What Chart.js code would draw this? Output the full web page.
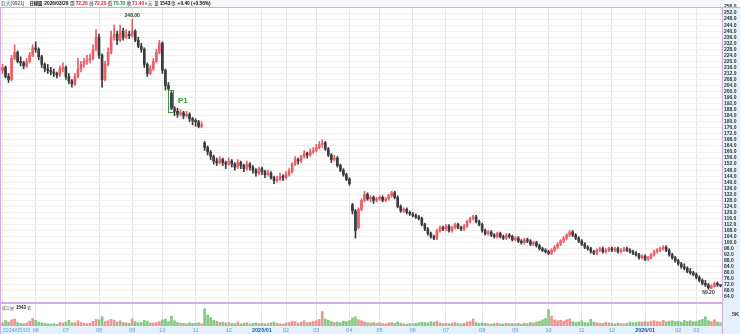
<!DOCTYPE html>
<html><head><meta charset="utf-8">
<script src="https://cdn.jsdelivr.net/npm/chart.js@4/dist/chart.umd.min.js"></script>
<style>
html,body{margin:0;padding:0;background:#fff;width:740px;height:334px;overflow:hidden}
#p{position:absolute;left:0;top:0;width:740px;height:304px}
#v{position:absolute;left:0;top:304px;width:740px;height:30px}
</style></head><body>
<div id="p"><canvas id="pc"></canvas></div>
<div id="v"><canvas id="vc"></canvas></div>
<script>
// ---- data (~2 trading days per candle) ----
const monthStarts = [0,11,21,32,43,53,64,75,86,94,104,115,125,136,147,159,170,181,192,202,213,224,230];
const monthLabels = ['2024/05/03','06','07','08','09','10','11','12','2025/01','02','03','04','05','06','07','08','09','10','11','12','2026/01','02','03'];
const priceTicks = [256,252,248,244,240,236,232,228,224,220,216,212,208,204,200,196,192,188,184,180,176,172,168,164,160,156,152,148,144,140,136,132,128,124,120,116,112,108,104,100,96,92,88,84,80,76,72,68,64];
const volTicks = [5];

const opens = [
214,216,210,208,222,226,220,219,217,220,224,
229,228,223,218,215,214,213,212,211,215,
216,210,207,205,210,215,218,220,221,222,228,
236,224,208,218,226,236,238,234,240,236,238,
237,240,234,230,228,218,212,215,220,226,
232,214,204,199,189,187,185,186,184,185,182,
181,180,177,166,163,160,157,154,153,155,153,
152,154,152,150,153,151,149,152,150,148,146,
149,147,145,146,143,141,142,144,
143,145,147,152,155,154,157,159,158,160,
161,163,165,166,162,158,155,156,151,148,145,
142,125,121,110,122,128,132,129,130,128,
129,130,128,129,131,133,130,124,121,122,120,
119,118,117,116,112,109,106,104,103,108,110,
109,111,108,110,112,110,109,111,114,116,117,114,
112,108,106,107,105,104,106,104,103,105,104,
102,103,101,100,102,101,99,100,98,96,95,
94,93,95,97,99,101,103,105,107,105,103,
101,99,97,96,94,93,95,96,94,95,
96,95,96,94,95,96,95,94,93,92,90,
91,89,90,92,94,95,96,97,95,92,90,
88,86,84,83,81,80,
79,77,75,73,72,70,71,73,72.2];
const highs = [
218,217,212,224,231,227,223,220,222,226,231,
233,229,224,219,218,216,215,213,217,219,
217,212,208,212,222,220,222,224,225,231,241,
238,225,220,229,240,244,240,244,242,241,240,
248,241,236,232,229,219,217,222,228,234,
233,215,206,200,190,189,188,187,187,186,183,
182,181,180,167,164,161,158,156,157,156,154,
156,155,153,155,154,152,154,153,151,149,150,
150,148,148,147,144,144,146,145,
147,149,153,157,156,158,161,160,162,163,
165,167,168,167,163,159,158,157,152,149,146,
143,126,122,123,129,134,133,131,131,130,
131,131,130,132,134,134,131,125,123,123,121,
120,119,118,117,113,110,107,105,109,111,111,
112,112,111,113,113,111,112,115,117,118,118,115,
113,109,108,108,106,107,107,105,106,106,105,
104,104,102,103,103,102,101,101,99,97,96,
95,96,98,100,102,104,106,108,108,106,104,
102,100,98,97,95,96,97,97,96,97,
97,97,97,96,97,97,96,95,94,93,92,
92,91,93,95,96,97,98,98,96,93,91,
89,87,86,84,83,81,
80,78,76,75,73,72,74,74,72.2];
const lows = [
212,209,206,207,221,219,217,215,216,219,223,
226,221,216,213,212,211,210,209,210,213,
208,205,203,204,209,213,216,218,219,221,227,
222,203,207,217,225,234,231,233,234,235,235,
236,233,229,226,216,210,211,214,219,225,
212,201,201,188,184,183,184,182,183,180,178,
177,176,176,161,158,155,152,151,152,151,149,
151,150,148,149,149,147,148,148,146,144,145,
145,143,144,142,139,140,141,141,
142,144,146,151,152,153,156,156,157,159,
160,162,163,161,157,153,154,150,147,144,141,
138,119,103,109,121,127,128,127,126,127,
128,127,127,128,130,129,123,120,120,119,118,
117,116,115,111,108,105,103,102,102,107,108,
108,107,107,109,109,108,108,110,113,115,113,111,
107,105,105,104,103,103,103,102,102,103,101,
101,100,99,99,100,98,98,97,95,94,93,
92,92,94,96,98,100,102,104,104,102,100,
98,96,95,93,92,92,94,93,93,94,
94,94,93,93,94,94,93,92,91,89,89,
88,88,89,91,93,94,95,94,91,89,87,
85,83,82,80,79,78,
76,74,72,71,69.2,69.5,70.5,71,70.7];
const closes = [
216,210,208,222,226,220,219,217,220,224,229,
228,223,218,215,214,213,212,211,215,216,
210,207,205,210,215,218,220,221,222,228,236,
224,208,218,226,236,238,234,240,236,238,237,
240,234,230,228,218,212,215,220,226,232,
214,204,202,189,187,185,186,184,185,182,181,
180,177,178,163,160,157,154,153,155,153,152,
154,152,150,153,151,149,152,150,148,146,149,
147,145,146,143,141,142,144,143,
145,147,152,155,154,157,159,158,160,161,
163,165,166,162,158,155,156,151,148,145,142,
139,121,108,122,128,132,129,130,128,129,
130,128,129,131,133,130,124,121,122,120,119,
118,117,116,112,109,106,104,103,108,110,109,
111,108,110,112,110,109,111,114,116,117,114,112,
108,106,107,105,104,106,104,103,105,104,102,
103,101,100,102,101,99,100,98,96,95,94,
93,95,97,99,101,103,105,107,105,103,101,
99,97,96,94,93,95,96,94,95,96,
95,96,94,95,96,95,94,93,92,90,91,
89,90,92,94,95,96,97,95,92,90,88,
86,84,83,81,80,79,
77,75,73,72,70,71,73,72,71.4];
// volume in thousands of lots (張)
const volumes = [
1.5,2.5,1.8,2.8,3.2,1.6,1.2,1.0,1.4,2.2,3.4,
2.6,1.8,1.5,1.2,1.0,0.9,1.1,0.8,1.6,1.3,
1.8,2.6,1.5,1.4,2.4,1.6,1.2,1.0,1.3,2.2,3.0,
2.8,4.2,2.0,2.4,3.0,2.6,1.8,2.4,1.6,1.4,1.2,
3.2,2.0,1.5,1.6,2.6,2.2,1.4,1.3,1.6,2.0,
2.8,3.2,2.0,4.5,2.4,1.6,1.3,1.2,1.0,1.5,1.2,
1.3,1.5,1.0,7.8,5.0,3.8,2.6,2.2,1.6,1.8,1.4,
1.6,1.2,1.1,1.8,1.0,1.3,1.5,0.9,1.2,1.4,1.1,
1.2,1.0,1.1,1.5,1.8,1.2,1.0,0.9,
1.4,1.6,2.2,2.0,1.3,1.8,2.4,1.5,1.7,2.0,
2.4,3.0,6.5,3.2,2.6,2.0,1.6,1.8,1.5,2.2,2.0,
2.4,3.6,4.2,2.8,2.4,1.8,1.5,1.4,1.6,1.2,
1.5,1.1,1.0,1.4,1.6,1.2,1.8,1.3,1.0,0.9,1.1,
1.0,1.2,1.5,1.8,1.6,1.4,1.9,1.6,2.2,1.4,1.1,
1.2,1.0,1.3,1.6,1.1,0.9,1.2,1.8,2.0,3.2,1.6,1.2,
1.4,1.2,1.0,0.9,1.1,1.3,1.0,0.9,1.2,1.0,1.1,
1.0,1.2,0.9,1.3,1.1,1.6,1.4,1.8,2.2,2.8,3.4,
7.5,4.5,2.8,2.4,2.6,2.2,2.8,3.2,2.0,1.6,1.8,
2.4,1.6,1.4,3.0,1.8,1.5,1.3,1.2,1.6,1.4,
1.2,1.0,1.3,1.1,1.0,1.2,1.8,1.5,1.6,1.9,1.7,
2.0,1.8,2.2,2.4,2.0,1.8,2.6,1.9,2.2,2.4,2.0,
2.2,1.8,2.6,2.0,2.4,1.9,
2.2,2.6,3.0,4.2,2.4,2.0,2.8,1.8,1.5];
const p1Index = 56, p1Label = 'P1';
// header: [text, colour, bold, gap after]
const headerParts = [
  ['巨大(9921)', '#444', false, 5], ['日線圖', '#111', true, 2], ['2026/03/26', '#111', true, 2],
  ['開', '#222', false, 1], ['72.20', '#e0282e', true, 1.5], ['高', '#222', false, 1], ['72.20', '#e0282e', true, 1.5],
  ['低', '#222', false, 1], ['70.70', '#1f9a2c', true, 1.5], ['收', '#222', false, 1], ['71.40', '#e0282e', true, 1],
  ['s 元', '#222', false, 2], ['量', '#222', false, 1], ['1543', '#111', true, 1], ['張', '#222', false, 2],
  ['+0.40 (+0.56%)', '#111', true, 0]
];
const volLabel = [['成交量', '#555', false, 2], ['1543', '#111', true, 1], ['張', '#555', false, 0]];

// ---- derived tables ----
const categories = closes.map(() => '');
monthStarts.forEach((s, k) => { categories[s] = monthLabels[k]; });
const monthIdx = new Set(monthStarts);
const isUp = closes.map((c, i) => c >= opens[i]);
const UP = '#ec5f66', DOWN = '#3b3b3b', VUP = '#f29393', VDOWN = '#85c985';
const VIOLET = '#d6a9e2', AXISBG = '#e4f1fb';
const FONT = "'Liberation Sans','Noto Sans CJK TC',sans-serif";
const CJK = "'Noto Sans CJK TC','Liberation Sans',sans-serif";
const isYear = l => /\//.test(l) && !/\/\d\d\/\d\d/.test(l);

const xGrid = { color: c => monthIdx.has(c.index) ? '#e6e6e6' : 'rgba(0,0,0,0)', offset: false, drawTicks: false, lineWidth: 1 };

function drawParts(ctx, parts, x0, y, size, cjkSize) {
  ctx.textBaseline = 'middle'; ctx.textAlign = 'left';
  let x = x0;
  parts.forEach(([t, col, b, gap]) => {
    const cjk = /[^\x00-\x7f]/.test(t) && !/\d/.test(t);
    ctx.font = (b ? 'bold ' : '') + (cjk ? cjkSize : size) + 'px ' + (cjk ? CJK : FONT);
    ctx.fillStyle = col; ctx.fillText(t, x, y);
    x += ctx.measureText(t).width + gap;
  });
}

const priceDeco = {
  id: 'priceDeco',
  beforeDraw(chart) {
    const ctx = chart.ctx, a = chart.chartArea, W = chart.width, H = chart.height;
    ctx.save();
    ctx.fillStyle = '#fff'; ctx.fillRect(0, 0, W, H);
    ctx.fillStyle = '#f5f7fb'; ctx.fillRect(0, 0, W, 7);
    ctx.fillStyle = AXISBG; ctx.fillRect(a.right, 7, W - a.right, H - 7);
    ctx.restore();
  },
  afterDatasetsDraw(chart) {
    const ctx = chart.ctx, xs = chart.scales.x, ys = chart.scales.y;
    ctx.save();
    const x = Math.round(xs.getPixelForValue(p1Index));
    const t = Math.round(ys.getPixelForValue(highs[p1Index])) - 2, b = Math.round(ys.getPixelForValue(lows[p1Index])) + 2;
    ctx.strokeStyle = '#3d9a4b'; ctx.lineWidth = 1;
    ctx.strokeRect(x - 2.5, t + 0.5, 5, b - t);
    ctx.fillStyle = '#2e9a3e'; ctx.font = 'bold 8px ' + FONT; ctx.textBaseline = 'middle'; ctx.textAlign = 'left';
    ctx.fillText(p1Label, x + 7, (t + b) / 2);
    let hi = 0, lo = 0;
    highs.forEach((v, i) => { if (v > highs[hi]) hi = i; });
    lows.forEach((v, i) => { if (v < lows[lo]) lo = i; });
    ctx.fillStyle = '#333'; ctx.font = 'bold 5px ' + FONT; ctx.textAlign = 'center';
    ctx.textBaseline = 'bottom';
    ctx.fillText(highs[hi].toFixed(2), xs.getPixelForValue(hi), ys.getPixelForValue(highs[hi]) - 1);
    ctx.textBaseline = 'top';
    ctx.fillText(lows[lo].toFixed(2), xs.getPixelForValue(lo), ys.getPixelForValue(lows[lo]) + 1);
    ctx.restore();
  },
  afterDraw(chart) {
    const ctx = chart.ctx, a = chart.chartArea, W = chart.width, H = chart.height;
    ctx.save();
    ctx.fillStyle = VIOLET;
    ctx.fillRect(0, 7, W, 1);
    ctx.fillRect(0, 7, 1, H - 7);
    ctx.fillRect(Math.round(a.right), 7, 1, H - 7);
    ctx.fillRect(0, H - 2, Math.round(a.right) + 1, 2);
    drawParts(ctx, headerParts, 1, 3.5, 4.8, 4.3);
    ctx.restore();
  }
};

const volDeco = {
  id: 'volDeco',
  beforeDraw(chart) {
    const ctx = chart.ctx, a = chart.chartArea, W = chart.width, H = chart.height;
    ctx.save();
    ctx.fillStyle = '#fff'; ctx.fillRect(0, 0, W, H);
    ctx.fillStyle = AXISBG; ctx.fillRect(a.right, 0, W - a.right, H);
    ctx.fillRect(0, a.bottom, W, H - a.bottom);
    ctx.restore();
  },
  afterDraw(chart) {
    const ctx = chart.ctx, a = chart.chartArea, H = chart.height;
    ctx.save();
    ctx.fillStyle = VIOLET;
    ctx.fillRect(0, 0, 1, H);
    ctx.fillRect(Math.round(a.right), 0, 1, H);
    drawParts(ctx, volLabel, 2, 4, 4.5, 4);
    ctx.restore();
  }
};

const common = { responsive: true, maintainAspectRatio: false, animation: false, devicePixelRatio: 1,
  plugins: { legend: { display: false }, tooltip: { enabled: false } } };

new Chart(document.getElementById('pc'), {
  type: 'bar',
  data: { labels: categories, datasets: [
    { data: lows.map((l, i) => [l, highs[i]]), backgroundColor: isUp.map(u => u ? UP : DOWN), barThickness: 1, grouped: false, order: 2 },
    { data: opens.map((o, i) => [o, closes[i]]), backgroundColor: isUp.map(u => u ? UP : DOWN), barThickness: 2, grouped: false, minBarLength: 1, order: 1 }
  ]},
  options: Object.assign({}, common, {
    layout: { padding: { left: 1, right: 0, top: 7, bottom: 2 } },
    scales: {
      x: { type: 'category', offset: true, grid: xGrid, border: { display: false },
           ticks: { display: false, autoSkip: false },
           afterFit: s => { s.height = 0; s.paddingLeft = 0; s.paddingRight = 0; } },
      y: { position: 'right', min: 60.7, max: 256,
           afterBuildTicks: s => { s.ticks = priceTicks.map(v => ({ value: v })); },
           afterFit: s => { s.width = 18; s.paddingTop = 0; s.paddingBottom = 0; },
           ticks: { autoSkip: false, font: { size: 5, family: FONT, weight: 'bold' }, color: '#333', padding: 2, callback: v => Number(v).toFixed(1) },
           grid: { color: '#efefef', drawTicks: false }, border: { display: false } }
    }
  }),
  plugins: [priceDeco]
});

new Chart(document.getElementById('vc'), {
  type: 'bar',
  data: { labels: categories, datasets: [
    { data: volumes, backgroundColor: isUp.map(u => u ? VUP : VDOWN), barThickness: 2 }
  ]},
  options: Object.assign({}, common, {
    layout: { padding: { left: 1, right: 0, top: 1, bottom: 0 } },
    scales: {
      x: { type: 'category', offset: true, grid: xGrid, border: { display: false },
           ticks: { autoSkip: false, maxRotation: 0, minRotation: 0, align: 'inner', padding: 1,
                    font: c => ({ size: 5.5, family: FONT, weight: (c.tick && isYear(c.tick.label)) ? 'bold' : 'normal' }),
                    color: c => (c.tick && isYear(c.tick.label)) ? '#1d5fa6' : '#5a9ad4',
                    callback: (v, i) => categories[i] },
           afterFit: s => { s.height = 8; s.paddingLeft = 0; s.paddingRight = 0; } },
      y: { position: 'right', min: 0, max: 9.5,
           afterBuildTicks: s => { s.ticks = volTicks.map(v => ({ value: v })); },
           afterFit: s => { s.width = 18; s.paddingTop = 0; s.paddingBottom = 0; },
           ticks: { autoSkip: false, font: { size: 5.5, family: FONT, weight: 'bold' }, color: '#333', padding: 2, callback: v => v + 'K' },
           grid: { display: false }, border: { display: false } }
    }
  }),
  plugins: [volDeco]
});
</script>
</body></html>
